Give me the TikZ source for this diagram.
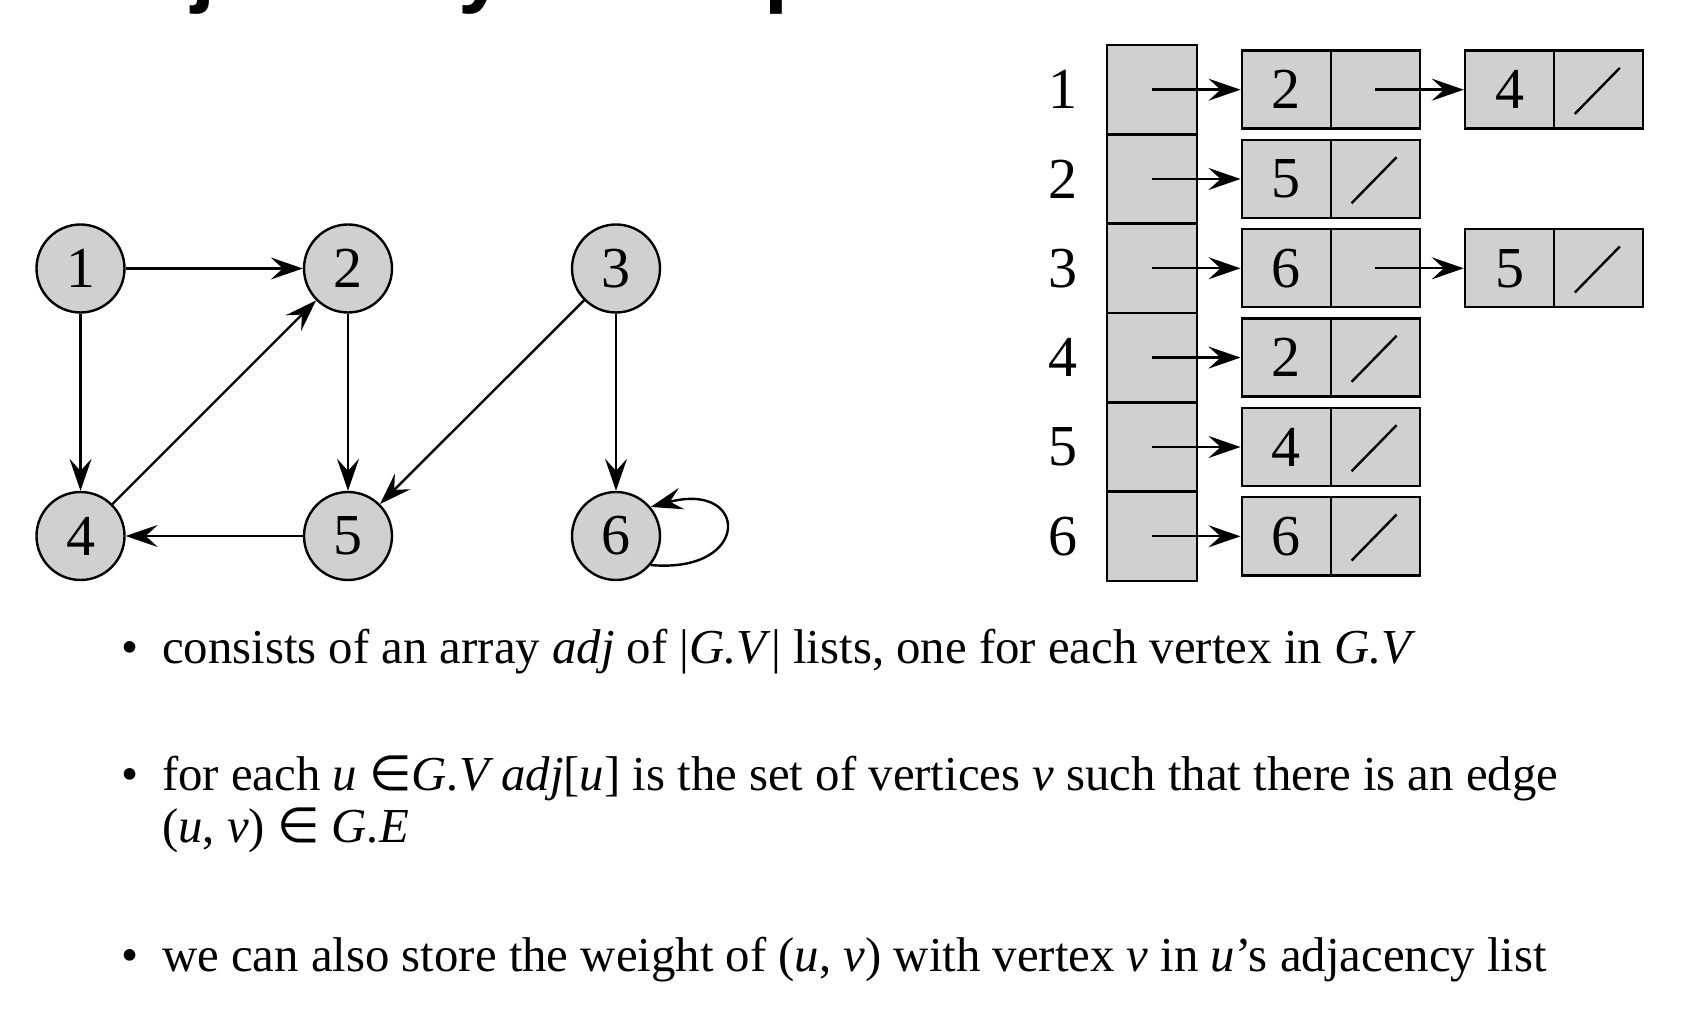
\documentclass[tikz,border=0pt]{standalone}
\usepackage{fontspec}
\setmainfont{Liberation Serif}
\newfontfamily\titlefont{Liberation Sans}
\newfontfamily\symfont{DejaVu Sans}
\usetikzlibrary{arrows.meta}
\definecolor{cellgray}{RGB}{208,208,208}
\tikzset{
  vertex/.style={draw, circle, fill=cellgray, line width=1.2pt, minimum size=44pt,
    inner sep=0pt, font=\fontsize{29}{30}\selectfont},
  cell/.style={draw, rectangle, fill=cellgray, line width=1.2pt, inner sep=0pt,
    minimum width=44.5pt, minimum height=39pt, font=\fontsize{29}{30}\selectfont},
  slot/.style={cell, minimum width=45pt, minimum height=44.67pt},
  arr/.style={-{Stealth[length=16pt, width=11pt, inset=6pt]}, line width=1.2pt},
  item/.style={anchor=base west, inner sep=0pt, font=\fontsize{24.4}{26}\selectfont}
}

\begin{document}
\begin{tikzpicture}[x=0.5pt, y=-0.5pt]
  \useasboundingbox (0,0) rectangle (1684,1020);
  \clip (0,0) rectangle (1684,1020);

  \node[anchor=base west, inner sep=0pt, font=\titlefont\bfseries\fontsize{43}{44}\selectfont]
    (title) at (76,-3) {Adjacency-list representation};

  % the graph
  \node[vertex] (n1) at (80.5,268.5) {1};
  \node[vertex] (n2) at (348,268.5) {2};
  \node[vertex] (n3) at (616,268.5) {3};
  \node[vertex] (n4) at (80.5,536) {4};
  \node[vertex] (n5) at (348,536) {5};
  \node[vertex] (n6) at (616,536) {6};
  \draw[arr] (n1) -- (n2);
  \draw[arr] (n1) -- (n4);
  \draw[arr] (n4) -- (n2);
  \draw[arr] (n2) -- (n5);
  \draw[arr] (n3) -- (n5);
  \draw[arr] (n3) -- (n6);
  \draw[arr] (n5) -- (n4);
  \draw[arr] (n6.-40) to[out=-5, in=15, looseness=4.5] (n6.40);

  % the array adj
  \node[font=\fontsize{29}{30}\selectfont] (r1) at (1063,89.7) {1};
  \node[font=\fontsize{29}{30}\selectfont] (r2) at (1063,179.0) {2};
  \node[font=\fontsize{29}{30}\selectfont] (r3) at (1063,268.3) {3};
  \node[font=\fontsize{29}{30}\selectfont] (r4) at (1063,357.6) {4};
  \node[font=\fontsize{29}{30}\selectfont] (r5) at (1063,447.0) {5};
  \node[font=\fontsize{29}{30}\selectfont] (r6) at (1063,536.3) {6};
  \node[slot] (s1) at (1152,89.7) {};
  \node[slot] (s2) at (1152,179.0) {};
  \node[slot] (s3) at (1152,268.3) {};
  \node[slot] (s4) at (1152,357.6) {};
  \node[slot] (s5) at (1152,447.0) {};
  \node[slot] (s6) at (1152,536.3) {};

  % the lists
  \node[cell] (k1) at (1286.2,89.7) {2};  \node[cell] (p1) at (1375.3,89.7) {};
  \node[cell] (k2) at (1286.2,179.0) {5}; \node[cell] (p2) at (1375.3,179.0) {};
  \node[cell] (k3) at (1286.2,268.3) {6}; \node[cell] (p3) at (1375.3,268.3) {};
  \node[cell] (k4) at (1286.2,357.6) {2}; \node[cell] (p4) at (1375.3,357.6) {};
  \node[cell] (k5) at (1286.2,447.0) {4}; \node[cell] (p5) at (1375.3,447.0) {};
  \node[cell] (k6) at (1286.2,536.3) {6}; \node[cell] (p6) at (1375.3,536.3) {};
  \node[cell] (k7) at (1509.5,89.7) {4};  \node[cell] (p7) at (1598.5,89.7) {};
  \node[cell] (k8) at (1509.5,268.3) {5}; \node[cell] (p8) at (1598.5,268.3) {};

  \draw[arr] (s1.center) -- (k1.west);
  \draw[arr] (s2.center) -- (k2.west);
  \draw[arr] (s3.center) -- (k3.west);
  \draw[arr] (s4.center) -- (k4.west);
  \draw[arr] (s5.center) -- (k5.west);
  \draw[arr] (s6.center) -- (k6.west);
  \draw[arr] (p1.center) -- (k7.west);
  \draw[arr] (p3.center) -- (k8.west);

  % nil pointers
  \draw[line width=1.2pt] ([shift={(22,-16)}]p2.south west) -- ++(45,-46);
  \draw[line width=1.2pt] ([shift={(22,-16)}]p4.south west) -- ++(45,-46);
  \draw[line width=1.2pt] ([shift={(22,-16)}]p5.south west) -- ++(45,-46);
  \draw[line width=1.2pt] ([shift={(22,-16)}]p6.south west) -- ++(45,-46);
  \draw[line width=1.2pt] ([shift={(22,-16)}]p7.south west) -- ++(45,-46);
  \draw[line width=1.2pt] ([shift={(22,-16)}]p8.south west) -- ++(45,-46);

  % the text
  \node[item, anchor=base] (b1) at (130,663) {•};
  \node[item] (t1) at (161.7,663) {consists of an array \textit{adj} of |\textit{G.V}| lists, one for each vertex in \textit{G.V}};
  \node[item, anchor=base] (b2) at (130,790) {•};
  \node[item] (t2) at (161.7,790) {for each \textit{u} {\symfont ∈}\textit{G.V adj}[\textit{u}] is the set of vertices \textit{v} such that there is an edge};
  \node[item] (t2b) at (161.7,842) {(\textit{u}, \textit{v}) {\symfont ∈} \textit{G.E}};
  \node[item, anchor=base] (b3) at (130,971.5) {•};
  \node[item] (t3) at (161.7,971.5) {we can also store the weight of (\textit{u}, \textit{v}) with vertex \textit{v} in \textit{u}’s adjacency list};
\end{tikzpicture}
\end{document}
